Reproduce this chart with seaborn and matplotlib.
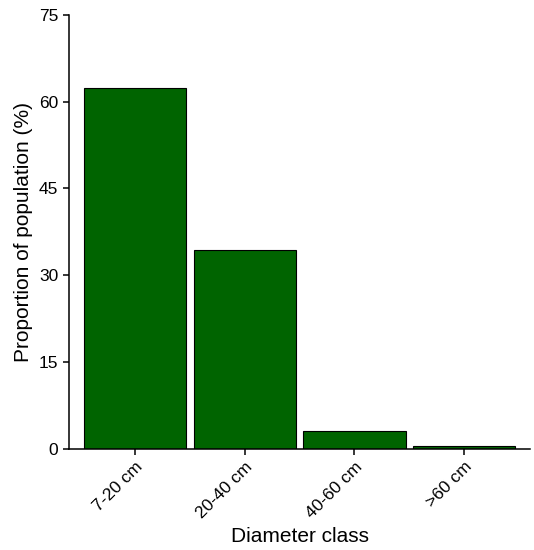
import matplotlib
matplotlib.use('Agg')
import matplotlib.pyplot as plt
import pandas as pd
import seaborn as sns

classes = ['7-20 cm', '20-40 cm', '40-60 cm', '>60 cm']
proportion = [62.4, 34.3, 3.1, 0.5]

df = pd.DataFrame({'cls': classes, 'prop': proportion})

sns.set_style('ticks')
plt.rcParams['font.family'] = ['Liberation Sans', 'DejaVu Sans']
plt.rcParams['text.color'] = 'black'
plt.rcParams['axes.labelcolor'] = 'black'

fig = plt.figure(figsize=(5.34, 5.5), dpi=100)
ax = fig.add_axes([0.129, 0.184, 0.864, 0.789])
sns.barplot(x='cls', y='prop', data=df, color='#006400', saturation=1,
            width=0.93, edgecolor='black', linewidth=0.8, ax=ax)

ax.set_xlim(-0.6, 3.6)
ax.set_ylim(0, 75)
ax.set_yticks([0, 15, 30, 45, 60, 75])
sns.despine(ax=ax)
for s in ['left', 'bottom']:
    ax.spines[s].set_linewidth(1.1)
    ax.spines[s].set_color('black')
ax.tick_params(axis='both', labelsize=12.5, colors='black', length=4, width=1.1)
plt.setp(ax.get_xticklabels(), rotation=45, ha='right', rotation_mode='anchor')
ax.set_xlabel('Diameter class', fontsize=15)
ax.set_ylabel('Proportion of population (%)', fontsize=15)

fig.savefig('out.png', dpi=100)
